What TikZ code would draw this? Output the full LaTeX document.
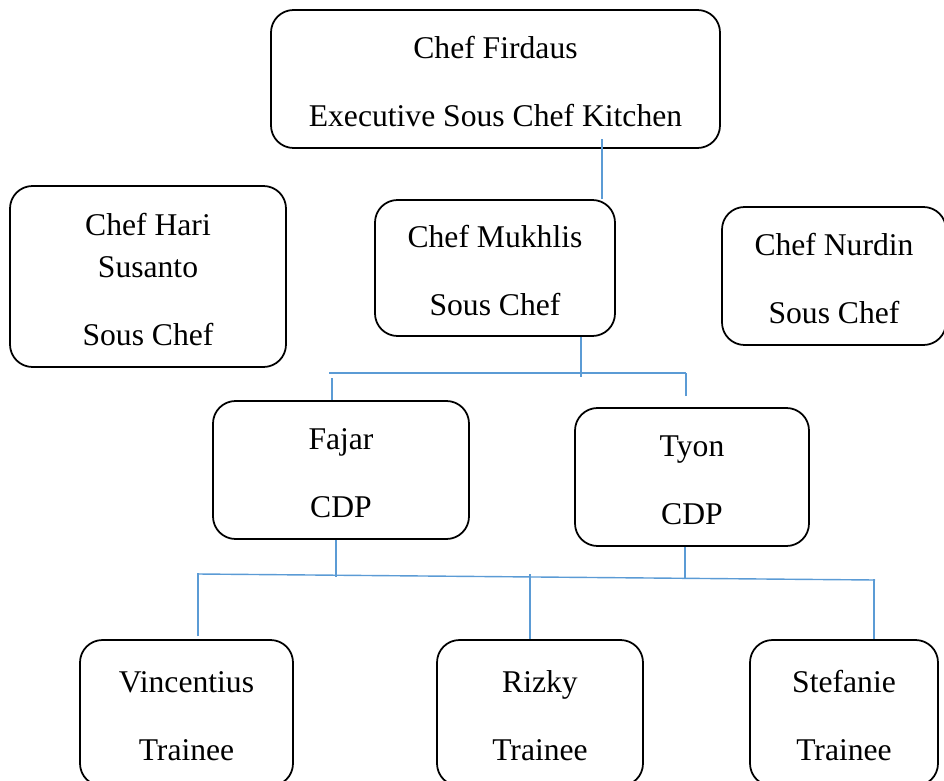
\documentclass[tikz,border=0pt]{standalone}
\usepackage{fontspec}
\setmainfont{Liberation Serif}
\usepackage{xcolor}
\definecolor{linkblue}{RGB}{91,155,213}

\begin{document}
\begin{tikzpicture}[
    box/.style={draw,line width=1pt,rounded corners=0.45cm,align=center,
        font=\fontsize{18}{24}\selectfont,inner sep=0pt},
    link/.style={draw=linkblue,line width=0.8pt}]
                    \useasboundingbox(0,0)rectangle(18.88,-15.62);
                    \node[box,minimum width=8.98cm,minimum height=2.76cm](firdaus)at(9.91,-1.58){\rule{0pt}{16pt}Chef Firdaus\\[14.6pt]Executive Sous Chef Kitchen};
                    \node[box,minimum width=5.52cm,minimum height=3.62cm](hari)at(2.96,-5.53){\rule{0pt}{16pt}Chef Hari\\Susanto\\[14.6pt]Sous Chef};
                    \node[box,minimum width=4.8cm,minimum height=2.72cm](mukhlis)at(9.9,-5.36){\rule{0pt}{16pt}Chef Mukhlis\\[14.6pt]Sous Chef};
                    \node[box,minimum width=4.48cm,minimum height=2.76cm](nurdin)at(16.68,-5.52){\rule{0pt}{16pt}Chef Nurdin\\[14.6pt]Sous Chef};
                    \node[box,minimum width=5.12cm,minimum height=2.76cm](fajar)at(6.82,-9.4){\rule{0pt}{16pt}Fajar\\[14.6pt]CDP};
                    \node[box,minimum width=4.68cm,minimum height=2.76cm](tyon)at(13.84,-9.54){\rule{0pt}{16pt}Tyon\\[14.6pt]CDP};
                    \node[box,minimum width=4.26cm,minimum height=2.92cm](vincentius)at(3.73,-14.26){\rule{0pt}{16pt}Vincentius\\[14.6pt]Trainee};
                    \node[box,minimum width=4.12cm,minimum height=2.92cm](rizky)at(10.8,-14.26){\rule{0pt}{16pt}Rizky\\[14.6pt]Trainee};
                    \node[box,minimum width=3.76cm,minimum height=2.92cm](stefanie)at(16.88,-14.26){\rule{0pt}{16pt}Stefanie\\[14.6pt]Trainee};
                    \coordinate(busa)at(6.58,-7.46);
                    \coordinate(busb)at(13.72,-7.46);
                    \coordinate(busc)at(3.96,-11.48);
                    \coordinate(busd)at(17.5,-11.6);
                    \draw[link]([xshift=2.14cm]mukhlis.north)--+(0,1.2);
                    \draw[link]([xshift=1.72cm]mukhlis.south)--+(0,-0.8);
                    \draw[link](busa)--(busb);
                    \draw[link]([xshift=-0.18cm]fajar.north)--+(0,0.44);
                    \draw[link]([yshift=-0.46cm]busb)--(busb);
                    \draw[link]([xshift=-0.1cm]fajar.south)--+(0,-0.74);
                    \draw[link]([xshift=-0.14cm]tyon.south)--+(0,-0.64);
                    \draw[link](busc)--(busd);
                    \draw[link]([xshift=0.23cm,yshift=0.06cm]vincentius.north)--+(0,1.26);
                    \draw[link]([xshift=-0.2cm]rizky.north)--+(0,1.3);
                    \draw[link]([xshift=0.6cm]stefanie.north)--+(0,1.2);
                \end{tikzpicture}
\end{document}
